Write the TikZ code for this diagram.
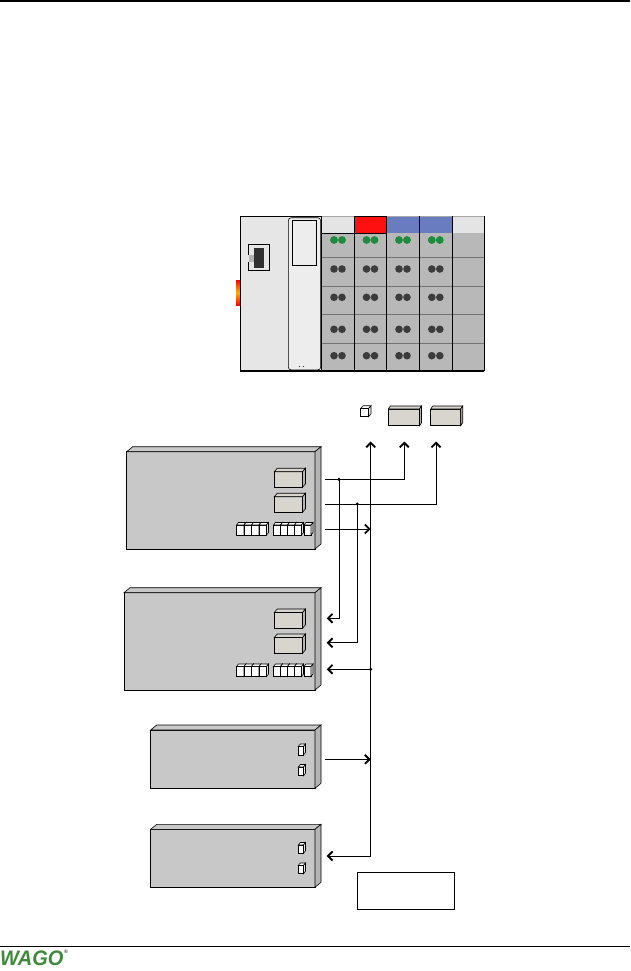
\documentclass[tikz,border=0pt]{standalone}
\usepackage{fontspec}
\newfontfamily\logofont{Liberation Sans}
\usetikzlibrary{arrows.meta}
\definecolor{devgray}{HTML}{C8C8C8}
\definecolor{devside}{HTML}{B4B4B4}
\definecolor{jackfill}{HTML}{D8D5CE}
\definecolor{coupler}{HTML}{E6E6E6}
\definecolor{modgray}{HTML}{B8B8B8}
\definecolor{bandgray}{HTML}{E4E4E4}
\definecolor{bandred}{HTML}{FF1010}
\definecolor{bandblue}{HTML}{6A7CC0}
\definecolor{ledgreen}{HTML}{1E8C3C}
\definecolor{leddark}{HTML}{3C3C3C}
\definecolor{wagogreen}{HTML}{3F8A3A}
\newcommand{\cubeshape}[8]{%
  \filldraw[fill=#7] (#1,#2) rectangle (#3,#4);
  \filldraw[fill=#7] (#1,#2) -- (#1+#5,#2-#6) -- (#3+#5,#2-#6) -- (#3,#2) -- cycle;
  \filldraw[fill=#8] (#3,#2) -- (#3+#5,#2-#6) -- (#3+#5,#4-#6) -- (#3,#4) -- cycle;
}
\newcommand{\termrow}[3]{% y-top y-bottom ; draws 9 terminals
  \foreach \xa/\xb in {236.5/244,244/251.5,251.5/259,259/266.5,273.5/280.5,280.5/287.5,287.5/294.5,294.5/301.5,304/311}{
    \cubeshape{\xa}{#1}{\xb}{#2}{2}{2.5}{white}{white!80!gray}
  }
}
\tikzset{
  wire/.style={line width=0.8pt},
  arr/.style={wire,-{Straight Barb[length=4.5pt,width=9pt,line width=1.9pt]}},
  jdot/.style={circle,fill=black,inner sep=0pt,minimum size=3.4pt},
  edge/.style={line width=0.6pt},
}
\begin{document}
\begin{tikzpicture}[x=1pt,y=-1pt,line join=miter]
\useasboundingbox (0,0) rectangle (630,971);
% page rules
\draw[line width=1.8pt] (0,1.3) -- (630,1.3);
\draw[line width=0.8pt] (0,946) -- (630,946);
% logo
\node[anchor=west,inner sep=0pt,text=wagogreen,font=\logofont\bfseries\itshape\fontsize{21}{21}\selectfont,xscale=0.95] (logo) at (0,958.5) {WAGO};
\node[anchor=west,inner sep=0pt,font=\logofont\fontsize{5}{5}\selectfont] (reg) at (64,951.5) {\textregistered};

% ===== fieldbus node =====
\begin{scope}[edge]
\shade[top color=red, bottom color=red, middle color=orange!60!yellow] (236,280) rectangle (241,305);
\fill[coupler] (240.7,216) rectangle (321.7,370.7);
\draw (240.7,370.7) -- (240.7,216) -- (321.7,216);
\filldraw[fill=coupler!70!white,rounded corners=3pt] (288.3,217.7) rectangle (320.7,370);
\draw (292.3,220.7) rectangle (316,265);
\fill (299.5,366.5) circle (0.5) (303.5,366.5) circle (0.5);
% fieldbus connector
\draw[line width=0.8pt] (248.3,244) -- (269.3,244) (248.3,270.7) -- (269.3,270.7);
\draw[line width=0.8pt] (248.3,244) -- (248.3,255) (248.3,261.7) -- (248.3,270.7);
\fill[leddark!80!black] (254.3,247.7) rectangle (264.3,268.3);
\fill[gray!60] (248.8,255) rectangle (254.3,261.7);
\draw[line width=0.8pt] (269.3,244) -- (269.3,270.7);
% modules
\fill[modgray] (321.7,233.3) rectangle (484,370.7);
\fill[bandgray] (321.7,216) rectangle (354.3,233.3);
\fill[bandred] (354.3,216) rectangle (386.7,233.3);
\fill[bandblue] (386.7,216) rectangle (452.3,233.3);
\fill[bandgray] (452.3,216) rectangle (484,233.3);
\draw (321.7,233.3) -- (386.7,233.3);
\draw (354.3,216) -- (386.7,216);
\draw[gray!70] (386.7,216) -- (484,216);
\draw[gray!70] (321.7,216) -- (354.3,216);
\foreach \yy in {257.3,286,314.3,343.3}{\draw[gray!90!black,line width=0.5pt] (321.7,\yy) -- (484,\yy);}
\foreach \xx in {321.7,354.3,386.7,419.3,452.3,484}{\draw (\xx,216) -- (\xx,370.7);}
\foreach \cx in {338,370.5,403,435.8}{
  \fill[ledgreen] (\cx-4,240) circle (3.9) (\cx+4,240) circle (3.9);
  \foreach \cy in {269,297.3,329.3,355.7}{
    \fill[leddark] (\cx-4,\cy) circle (3.8) (\cx+4,\cy) circle (3.8);
  }
}
\draw[line width=1.6pt] (240,370.7) -- (484.4,370.7);
\end{scope}

% ===== top devices =====
\begin{scope}[edge]
\cubeshape{360.7}{408.5}{368.5}{416.7}{2.5}{2.8}{white}{white!80!gray}
\cubeshape{388.3}{409}{419.5}{425.7}{2}{3}{jackfill}{jackfill!85!black}
\cubeshape{430.7}{409}{460.7}{425.7}{2}{3}{jackfill}{jackfill!85!black}
\end{scope}

% ===== device 1 =====
\begin{scope}[edge]
\cubeshape{126.7}{451.7}{315}{549}{6}{5}{devgray}{devside}
\cubeshape{274.3}{471.7}{302.5}{487.3}{3}{3.5}{jackfill}{jackfill!85!black}
\cubeshape{274.3}{496.7}{302.5}{512.3}{3}{3.5}{jackfill}{jackfill!85!black}
\termrow{525}{535}{}
\end{scope}
% ===== device 2 =====
\begin{scope}[edge]
\cubeshape{124}{592.7}{315}{690}{6}{5}{devgray}{devside}
\cubeshape{274.3}{612.5}{302.5}{628.3}{3}{3.5}{jackfill}{jackfill!85!black}
\cubeshape{274.3}{637.5}{302.5}{653.3}{3}{3.5}{jackfill}{jackfill!85!black}
\termrow{666.5}{676.5}{}
\end{scope}
% ===== device 3 =====
\begin{scope}[edge]
\cubeshape{150.7}{730}{315}{788.3}{6}{5}{devgray}{devside}
\cubeshape{298.3}{746.5}{303.5}{755}{2}{2.5}{white}{white!80!gray}
\cubeshape{298.3}{767}{303.5}{775.7}{2}{2.5}{white}{white!80!gray}
\end{scope}
% ===== device 4 =====
\begin{scope}[edge]
\cubeshape{150.7}{829.3}{315}{887.3}{6}{5}{devgray}{devside}
\cubeshape{298.3}{845}{303.5}{853.3}{2}{2.5}{white}{white!80!gray}
\cubeshape{298.3}{865.5}{303.5}{873.7}{2}{2.5}{white}{white!80!gray}
\end{scope}
% empty box
\node[draw,line width=0.7pt,fill=white,minimum width=97.6pt,minimum height=36.7pt,inner sep=0pt,anchor=north west] (blank) at (356.7,872.3) {};

% ===== connection points =====
\coordinate (d1a) at (325,479.3);
\coordinate (d1b) at (325,504);
\coordinate (d1c) at (325,529);
\coordinate (up1) at (370.7,441.5);
\coordinate (up2) at (404.3,441.5);
\coordinate (up3) at (436,441.5);
\coordinate (j1) at (339,479.3);
\coordinate (j2) at (357.3,504);
\coordinate (j3) at (370.7,669.3);
\coordinate (bus1) at (370.7,529);
\coordinate (d2a) at (326.7,618.3);
\coordinate (d2b) at (326.7,642.7);
\coordinate (d2c) at (326.7,669.3);
\coordinate (d3a) at (325,759.3);
\coordinate (bus3) at (370.7,759.3);
\coordinate (busend) at (370.7,856);
\coordinate (d4a) at (326.7,856);

% ===== connectors =====
\draw[arr] (d1a) -| (up2);
\draw[arr] (d1b) -| (up3);
\draw[arr] (busend) -- (up1);
\draw[arr] (d1c) -- (bus1);
\draw[arr] (j1) |- (d2a);
\draw[arr] (j2) |- (d2b);
\draw[arr] (j3) -- (d2c);
\draw[arr] (d3a) -- (bus3);
\draw[arr] (busend) -- (d4a);
\node[jdot] (dot1) at (j1) {};
\node[jdot] (dot2) at (j2) {};
\node[jdot] (dot3) at (j3) {};
\end{tikzpicture}
\end{document}
